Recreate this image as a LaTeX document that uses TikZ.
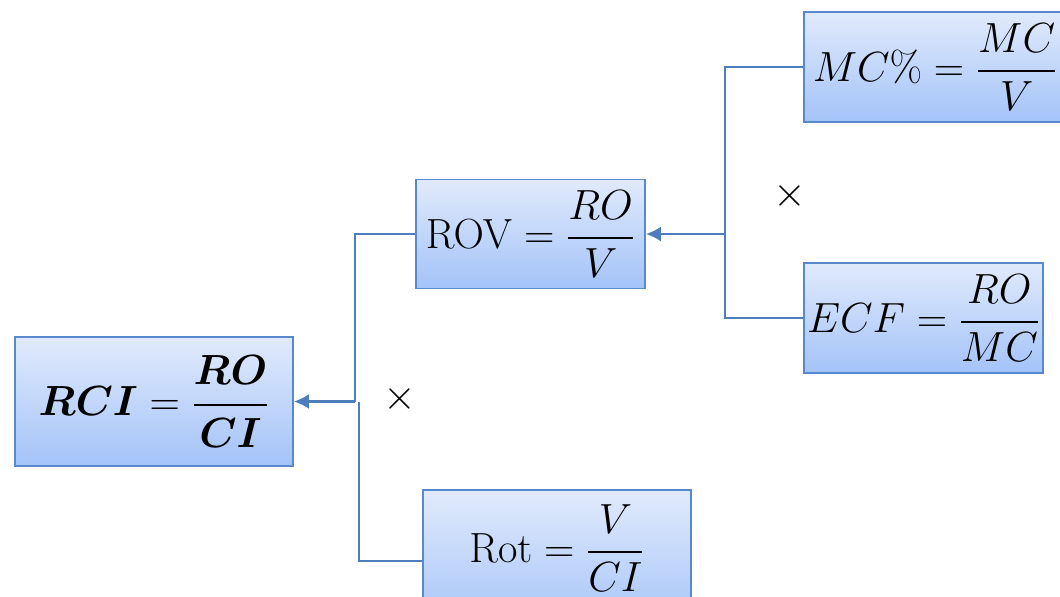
\RequirePackage{fix-cm}
\documentclass[tikz,border=0pt]{standalone}
\usepackage{amsmath}
\usetikzlibrary{arrows.meta}

\definecolor{boxline}{RGB}{88,137,204}
\definecolor{boxtop}{RGB}{225,234,252}
\definecolor{boxbot}{RGB}{163,195,248}
\definecolor{linkblue}{RGB}{76,126,190}

\newcommand{\bigsize}{\fontsize{24}{28}\selectfont}

\tikzset{
  ratiobox/.style={draw=boxline, line width=1.1pt, top color=boxtop, bottom color=boxbot, inner sep=0pt, font=\bigsize},
  link/.style={draw=linkblue, line width=1.2pt},
  timesmark/.style={font=\bigsize}
}

\begin{document}
\begin{tikzpicture}[x=0.02cm,y=-0.02cm,>={Latex[length=8.5pt,width=8.5pt]}]
   \useasboundingbox (0,0) rectangle (1060,596);
   \clip (0,0) rectangle (1060,596);

   \node[timesmark] (x1) at (400,399) {$\times$};
   \node[timesmark] (x2) at (790,196) {$\times$};

   \node[ratiobox,minimum width=4.58cm,minimum height=2.18cm] (rov) at (530.5,234) {$\mathrm{ROV} = \dfrac{RO}{V}$};
   \node[ratiobox,minimum width=5.36cm,minimum height=2.84cm] (rot) at (557,561) {\raisebox{0.26cm}[\height][\depth]{$\mathrm{Rot} = \dfrac{V}{CI}$}};
   \node[ratiobox,minimum width=5.24cm,minimum height=2.2cm] (mc) at (935,67) {$MC\% = \dfrac{MC}{V}$};
   \node[ratiobox,minimum width=4.78cm,minimum height=2.2cm] (ecf) at (923.5,318) {$ECF = \dfrac{RO}{MC}$};
   \node[ratiobox,minimum width=5.56cm,minimum height=2.58cm] (rci) at (154,401.5) {$\boldsymbol{RCI} = \boldsymbol{\dfrac{RO}{CI}}$};

   \coordinate (j1) at (355,401.5);
   \coordinate (j2) at (359,401.5);
   \coordinate (j3) at (725,234);

   \draw [link] (rov.west) -| (j1);
   \draw [link] (rot.west) -| (j2);
   \draw [link,->] (j1) -- (rci.east);
   \draw [link] (mc.west) -| (j3);
   \draw [link] (ecf.west) -| (j3);
   \draw [link,->] (j3) -- (rov.east);
\end{tikzpicture}
\end{document}
